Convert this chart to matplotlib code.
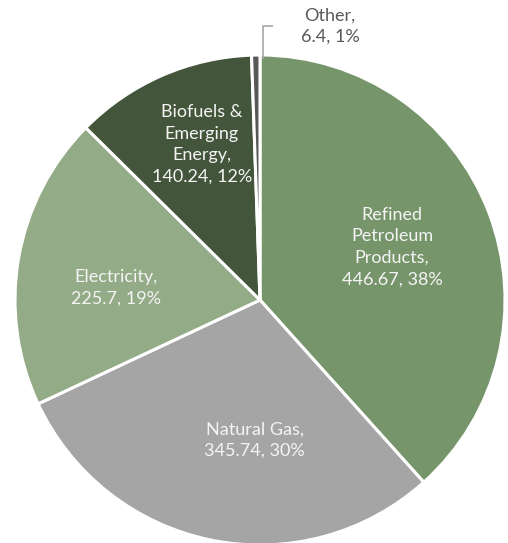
import matplotlib
matplotlib.use("Agg")
import matplotlib.pyplot as plt

categories = ["Refined\nPetroleum\nProducts", "Natural Gas", "Electricity",
              "Biofuels &\nEmerging\nEnergy", "Other"]
values = [446.67, 345.74, 225.7, 140.24, 6.4]
percents = ["38%", "30%", "19%", "12%", "1%"]
colors = ["#77956b", "#a5a5a5", "#94ab87", "#43553a", "#595959"]

# label anchor points (axes data units, pie radius = 1)
label_pos = [(0.539, 0.216), (-0.022, -0.571), (-0.588, 0.051),
             (-0.237, 0.635), (0.286, 1.118)]

W, H = 508, 543
cx, cy, r = 260, 300, 245

fig = plt.figure(figsize=(W / 100, H / 100), dpi=100)
ax = fig.add_axes([0, 0, 1, 1])

wedges, _ = ax.pie(values, colors=colors, startangle=90, counterclock=False,
                   radius=1.0, center=(0, 0),
                   wedgeprops=dict(edgecolor="white", linewidth=2.2))
ax.set_xlim(-cx / r, (W - cx) / r)
ax.set_ylim(-(H - cy) / r, cy / r)
ax.set_aspect("equal")
ax.axis("off")

font = ["Lato", "DejaVu Sans"]
for i, (cat, val, pct) in enumerate(zip(categories, values, percents)):
    text = f"{cat},\n{val:g}, {pct}"
    x, y = label_pos[i]
    if cat == "Other":
        ax.text(x, y, text, ha="center", va="center", fontsize=13,
                color="#595959", family=font, linespacing=1.42)
        # leader line from the thin wedge up to its label
        ax.plot([3 / r, 3 / r, 13 / r], [0.985, (cy - 26) / r, (cy - 26) / r],
                color="#a6a6a6", lw=1.2, solid_capstyle="butt")
    else:
        ax.text(x, y, text, ha="center", va="center", fontsize=13,
                color="#f4f4f4", family=font, linespacing=1.42)

fig.savefig("out.png", dpi=100, facecolor="white")
